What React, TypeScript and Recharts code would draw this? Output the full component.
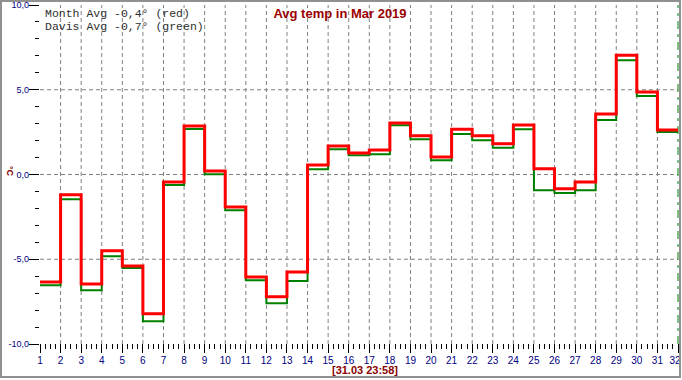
import React from 'react';
import { LineChart, Line, XAxis, YAxis, ReferenceLine } from 'recharts';

// days of March 2019
const days = [1, 2, 3, 4, 5, 6, 7, 8, 9, 10, 11, 12, 13, 14, 15, 16, 17, 18, 19, 20, 21, 22, 23, 24, 25, 26, 27, 28, 29, 30, 31];

// daily average temperature, °C
const monthAvg = [
  -6.34, -1.19, -6.46, -4.5, -5.4, -8.21, -0.44, 2.86, 0.21, -1.92, -6.05, -7.21, -5.75, 0.56, 1.68, 1.27,
  1.45, 3.04, 2.29, 1.03, 2.67, 2.29, 1.82, 2.92, 0.34, -0.84, -0.44, 3.57, 7.03, 4.87, 2.63,
];
const davisAvg = [
  -6.54, -1.46, -6.83, -4.83, -5.52, -8.66, -0.62, 2.68, 0.01, -2.11, -6.24, -7.6, -6.28, 0.31, 1.49, 1.13,
  1.19, 2.9, 2.08, 0.84, 2.39, 2.02, 1.58, 2.67, -0.93, -1.09, -0.93, 3.22, 6.74, 4.63, 2.51,
];

const endDay = 32;
const yTicks = [-10, -9, -8, -7, -6, -5, -4, -3, -2, -1, 0, 1, 2, 3, 4, 5, 6, 7, 8, 9, 10];
const gridY = [-5, 0, 5];
const gridX = days.slice(1);

const title = 'Avg temp in Mar 2019';
const legendLines = ['Month Avg -0,4° (red)', 'Davis Avg -0,7° (green)'];
const stamp = '[31.03 23:58]';

const data = days.map((d, i) => ({ day: d, month: monthAvg[i], davis: davisAvg[i] }));
// close the last step at the end of the month
data.push({ day: endDay, month: monthAvg[monthAvg.length - 1], davis: davisAvg[davisAvg.length - 1] });

const xTicks: number[] = [];
for (let d = 1; d <= endDay; d += 0.25) xTicks.push(d);

const XTick = ({ x, y, payload }: any) => {
  const v = payload.value;
  const major = Number.isInteger(v);
  const last = v === endDay;
  return (
    <g>
      <line x1={x} x2={x} y1={y} y2={y + (major ? 9 : 5)} stroke="#000" shapeRendering="crispEdges" />
      {major && (
        <text
          x={last ? x + 2.5 : x}
          y={y + 19.5}
          textAnchor={last ? 'end' : 'middle'}
          fill="#000080"
          fontSize={10}
          fontFamily="Arial, 'Liberation Sans'"
        >
          {v}
        </text>
      )}
    </g>
  );
};

const YTick = ({ x, y, payload }: any) => {
  const v = payload.value;
  const major = v % 5 === 0;
  return (
    <g>
      <line x1={x - (major ? 11 : 5)} x2={x - 1} y1={y} y2={y} stroke="#000" shapeRendering="crispEdges" />
      {major && (
        <text x={x - 11} y={y + 3} textAnchor="end" fill="#000080" fontSize={9} fontFamily="Arial, 'Liberation Sans'">
          {v.toFixed(1).replace('.', ',')}
        </text>
      )}
    </g>
  );
};

export default function App() {
  return (
    <div style={{ position: 'absolute', left: 0, top: 0, width: 682, height: 380, background: '#fff' }}>
      <LineChart width={682} height={380} data={data} margin={{ top: 5, right: 4, left: 0, bottom: 0 }}>
        <XAxis
          dataKey="day"
          type="number"
          domain={[1, endDay]}
          ticks={xTicks}
          interval={0}
          tickSize={0}
          tickMargin={0}
          axisLine={false}
          tickLine={false}
          height={36}
          tick={(p: any) => <XTick {...p} />}
        />
        <YAxis
          type="number"
          domain={[-10, 10]}
          ticks={yTicks}
          interval={0}
          tickSize={0}
          tickMargin={0}
          axisLine={false}
          tickLine={false}
          width={40}
          tick={(p: any) => <YTick {...p} />}
        />
        {gridY.map((v) => (
          <ReferenceLine key={'h' + v} y={v} stroke="#808080" strokeDasharray="4 3" />
        ))}
        {gridX.map((d) => (
          <ReferenceLine key={'v' + d} x={d} stroke="#808080" strokeDasharray="4 3" />
        ))}
        <ReferenceLine x={endDay} stroke="#008000" strokeDasharray="8 5 3 5" />
        <Line
          type="stepAfter"
          dataKey="davis"
          stroke="#008000"
          strokeWidth={2}
          dot={false}
          isAnimationActive={false}
        />
        <Line
          type="stepAfter"
          dataKey="month"
          stroke="#ff0000"
          strokeWidth={3}
          dot={false}
          isAnimationActive={false}
        />
      </LineChart>
      <svg
        width={682}
        height={380}
        style={{ position: 'absolute', left: 0, top: 0, pointerEvents: 'none' }}
      >
        <rect x={1} y={1} width={679} height={376} fill="none" stroke="#909090" strokeWidth={2} />
        <text x={340} y={18} textAnchor="middle" fill="#9b0000" fontSize={13} fontWeight="bold" fontFamily="Arial, 'Liberation Sans'">
          {title}
        </text>
        {legendLines.map((t, i) => (
          <text key={t} x={45} y={16.5 + i * 13} fill="#303030" fontSize={11.5} fontFamily="'Liberation Mono', 'Courier New', monospace" xmlSpace="preserve">
            {t}
          </text>
        ))}
        <text x={365} y={374} textAnchor="middle" fill="#8b0000" fontSize={11} fontWeight="bold" fontFamily="Arial, 'Liberation Sans'">
          {stamp}
        </text>
        <text x={7} y={171} transform="rotate(90 7 171)" textAnchor="middle" fill="#800000" fontSize={9} fontWeight="bold" fontFamily="Arial, 'Liberation Sans'">
          °C
        </text>
      </svg>
    </div>
  );
}
